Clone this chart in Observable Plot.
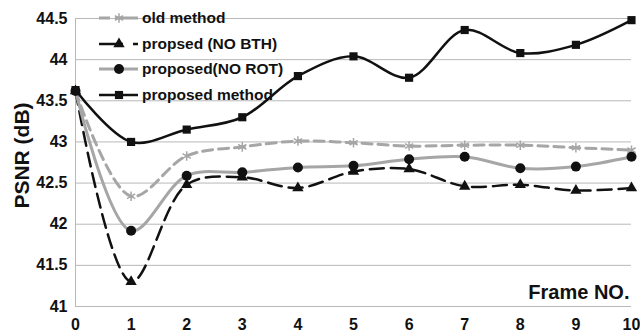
<!DOCTYPE html>
<html>
<head>
<meta charset="utf-8">
<script src="https://cdn.jsdelivr.net/npm/d3@7"></script>
<script src="https://cdn.jsdelivr.net/npm/@observablehq/plot@0.6"></script>
<style>
  html, body { margin: 0; padding: 0; background: #fff; }
  #wrap { position: relative; width: 640px; height: 335px; font-family: "Liberation Sans", Arial, sans-serif; font-weight: bold; }
  #legend { position: absolute; left: 99px; top: 5px; }
  .row { display: flex; align-items: center; height: 25.8px; font-size: 15.5px; color: #111; }
  .row svg { display: block; margin-right: 3px; }
</style>
</head>
<body>
<div id="wrap"></div>
<script>
const frames = [0, 1, 2, 3, 4, 5, 6, 7, 8, 9, 10];
const oldMethod = [43.62, 42.34, 42.83, 42.94, 43.01, 42.99, 42.95, 42.96, 42.96, 42.93, 42.90];
const noBTH     = [43.62, 41.30, 42.48, 42.57, 42.44, 42.64, 42.67, 42.46, 42.48, 42.41, 42.44];
const noROT     = [43.62, 41.92, 42.59, 42.63, 42.69, 42.71, 42.79, 42.82, 42.68, 42.70, 42.82];
const proposed  = [43.63, 43.00, 43.15, 43.30, 43.80, 44.04, 43.78, 44.36, 44.08, 44.18, 44.48];
const seriesNames = ["old method", "propsed (NO BTH)", "proposed(NO ROT)", "proposed method"];
const yTicks = [41, 41.5, 42, 42.5, 43, 43.5, 44, 44.5];
const xLabel = "Frame NO.";
const yLabel = "PSNR (dB)";

const styles = [
  {stroke: "#a6a6a6", width: 3, dash: "10,6", symbol: "asterisk", fill: "none", mstroke: "#a6a6a6", r: 4.5},
  {stroke: "#111", width: 2.5, dash: "14,7", symbol: "triangle", fill: "#111", mstroke: "none", r: 4.2},
  {stroke: "#a6a6a6", width: 3, dash: null, symbol: "circle", fill: "#111", mstroke: "none", r: 5},
  {stroke: "#111", width: 2.5, dash: null, symbol: "square", fill: "#111", mstroke: "none", r: 4.6}
];
const allValues = [oldMethod, noBTH, noROT, proposed];
const rows = allValues.map((vals, s) => frames.map((f, i) => ({frame: f, psnr: vals[i], s})));

const marks = [
  Plot.gridY(yTicks, {stroke: "#b8b8b8", strokeOpacity: 1, strokeWidth: 1}),
  Plot.ruleX([0], {stroke: "#b8b8b8", strokeWidth: 1}),
  Plot.axisY(yTicks, {tickSize: 0, tickPadding: 8, label: null, fontSize: 16, tickFormat: d => String(d)}),
  Plot.axisX(frames, {tickSize: 0, tickPadding: 12, label: null, fontSize: 16}),
  Plot.text([yLabel], {frameAnchor: "left", textAnchor: "middle", dx: -53, dy: -7, rotate: -90, fontSize: 21, fill: "#111"}),
  Plot.text([xLabel], {frameAnchor: "bottom-right", textAnchor: "end", dx: -2, dy: -8, fontSize: 20, fill: "#111"})
];
rows.forEach((data, s) => {
  const st = styles[s];
  marks.push(Plot.line(data, {x: "frame", y: "psnr", curve: "catmull-rom", stroke: st.stroke, strokeWidth: st.width, strokeDasharray: st.dash || undefined}));
});
rows.forEach((data, s) => {
  const st = styles[s];
  marks.push(Plot.dot(data, {x: "frame", y: "psnr", symbol: st.symbol, r: st.r, fill: st.fill, stroke: st.mstroke, strokeWidth: 1.5}));
});

const chart = Plot.plot({
  width: 640,
  height: 335,
  marginLeft: 75,
  marginRight: 9,
  marginTop: 18,
  marginBottom: 29,
  style: {fontFamily: "'Liberation Sans', Arial, sans-serif", fontWeight: "bold", color: "#111", background: "#fff", fontSize: "16px"},
  x: {domain: [0, 10]},
  y: {domain: [41, 44.5]},
  marks
});
const wrap = document.getElementById("wrap");
wrap.appendChild(chart);

// legend overlay
const legend = d3.select(wrap).append("div").attr("id", "legend");
const legendDash = ["11,5,40", "24,10,5,40", null, null];
seriesNames.forEach((name, s) => {
  const st = styles[s];
  const row = legend.append("div").attr("class", "row");
  const svg = row.append("svg").attr("width", 40).attr("height", 16);
  svg.append("line").attr("x1", 0).attr("x2", 39).attr("y1", 8).attr("y2", 8)
    .attr("stroke", st.stroke).attr("stroke-width", st.width)
    .attr("stroke-dasharray", legendDash[s]);
  const sym = {asterisk: d3.symbolAsterisk, triangle: d3.symbolTriangle, circle: d3.symbolCircle, square: d3.symbolSquare}[st.symbol];
  svg.append("path").attr("transform", "translate(20,8)")
    .attr("d", d3.symbol(sym, Math.PI * st.r * st.r)())
    .attr("fill", st.fill).attr("stroke", st.mstroke).attr("stroke-width", 1.5);
  row.append("span").text(name);
});
</script>
</body>
</html>
